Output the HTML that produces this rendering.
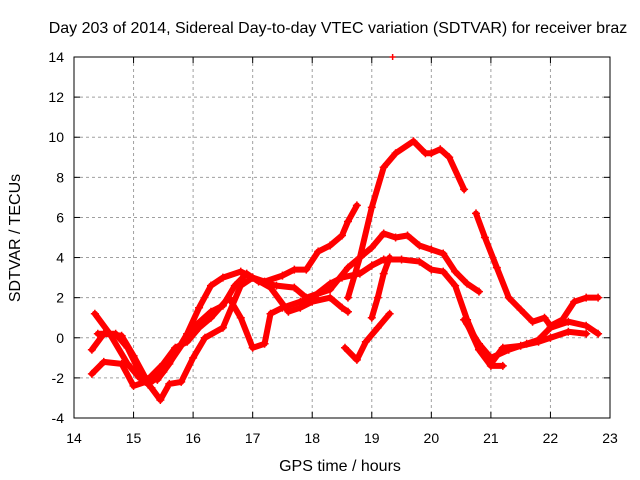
<!DOCTYPE html>
<html><head><meta charset="utf-8"><style>
body{margin:0;background:#fff}
svg{display:block;font-family:"Liberation Sans",sans-serif}
</style></head><body>
<svg id="c" width="640" height="480"></svg>
<script>
const xTicks=[14,15,16,17,18,19,20,21,22,23];
const yTicks=[-4,-2,0,2,4,6,8,10,12,14];
const curveP=[[14.3,-0.6],[14.5,0.2],[14.8,0.1],[15.0,-0.9],[15.2,-2.0],[15.4,-2.1],[15.6,-1.3],[15.9,0.2],[16.1,1.5],[16.3,2.6],[16.5,3.0],[16.8,3.3],[17.0,3.0],[17.2,2.8],[17.5,3.1],[17.7,3.4],[17.9,3.4],[18.1,4.3],[18.3,4.6],[18.5,5.1],[18.6,5.8],[18.75,6.6]];
const curveQ=[[14.35,1.2],[14.6,0.2],[14.9,-1.3],[15.1,-2.0],[15.3,-2.2],[15.5,-1.7],[15.8,-0.4],[16.0,0.5],[16.3,1.3],[16.5,1.6],[16.7,2.6],[16.9,3.2],[17.1,2.8],[17.4,2.6],[17.7,2.5],[17.9,2.0],[18.1,2.2],[18.3,2.4],[18.6,3.5],[18.8,4.0],[19.0,4.5],[19.2,5.2],[19.4,5.0],[19.6,5.1],[19.8,4.6],[20.0,4.4],[20.2,4.2],[20.4,3.3],[20.6,2.7],[20.8,2.3]];
const curveR=[[14.3,-1.8],[14.5,-1.2],[14.8,-1.3],[15.0,-2.4],[15.2,-2.2],[15.5,-1.3],[15.7,-0.5],[15.9,-0.2],[16.1,0.5],[16.3,1.0],[16.6,2.0],[16.8,1.0],[17.0,-0.5],[17.2,-0.3],[17.3,1.2],[17.5,1.5],[17.8,1.8],[18.0,2.0],[18.3,2.7],[18.5,3.0],[18.8,3.2],[19.0,3.6],[19.2,3.9],[19.5,3.9],[19.8,3.8],[20.0,3.4],[20.2,3.3],[20.4,2.6],[20.6,0.9],[20.8,-0.5],[21.0,-1.3],[21.2,-0.5],[21.5,-0.4],[21.8,-0.2],[22.0,0.0],[22.3,0.3],[22.6,0.2]];
const curveS=[[14.4,0.2],[14.7,0.2],[14.9,-0.5],[15.15,-2.0],[15.3,-2.5],[15.45,-3.1],[15.6,-2.3],[15.8,-2.2],[16.0,-1.0],[16.2,0.0],[16.5,0.5],[16.8,2.6],[17.0,3.0],[17.3,2.5],[17.6,1.3],[17.8,1.5],[18.0,1.8],[18.3,2.0],[18.5,1.5],[18.6,1.3]];
const curveT=[[18.6,2.0],[18.8,4.0],[19.0,6.5],[19.2,8.5],[19.4,9.2],[19.7,9.8],[19.9,9.2],[20.0,9.2],[20.15,9.4],[20.3,9.0],[20.55,7.4]];
const curveU=[[20.75,6.2],[20.9,5.0],[21.1,3.5],[21.3,2.0],[21.5,1.4],[21.7,0.8],[21.9,1.0],[22.0,0.6],[22.2,0.9],[22.4,1.8],[22.6,2.0],[22.8,2.0]];
const curveV=[[20.55,0.9],[20.8,-0.3],[21.0,-1.0],[21.3,-0.6],[21.6,-0.3],[21.8,-0.1],[22.0,0.5],[22.3,0.8],[22.6,0.6],[22.8,0.2]];
const curveW=[[18.55,-0.5],[18.75,-1.1],[18.9,-0.2],[19.1,0.5],[19.3,1.2]];
const curveX=[[19.0,1.0],[19.1,2.0],[19.2,3.2],[19.3,4.0]];
const curveY=[[20.6,0.7],[20.8,-0.6],[21.0,-1.4],[21.2,-1.4]];
const stray=[[19.35,14]];
const curves=[curveP,curveQ,curveR,curveS,curveT,curveU,curveV,curveW,curveX,curveY];
const svg=document.getElementById('c');
const NS='http://www.w3.org/2000/svg';
const X0=74,X1=610,Y0=418,Y1=57;
const sx=h=>X0+(h-14)/9*(X1-X0);
const sy=v=>Y0-(v+4)/18*(Y0-Y1);
function mk(t,a,p){const e=document.createElementNS(NS,t);for(const k in a)e.setAttribute(k,a[k]);(p||svg).appendChild(e);return e;}
const grid=mk('g',{});


xTicks.forEach(t=>{if(t>14&&t<23)mk('line',{x1:sx(t),x2:sx(t),y1:Y1,y2:Y0,stroke:'#a0a0a0','stroke-dasharray':'3,3'},grid);});
yTicks.forEach(t=>{if(t>-4&&t<14)mk('line',{x1:X0,x2:X1,y1:sy(t),y2:sy(t),stroke:'#a0a0a0','stroke-dasharray':'3,3'},grid);});
const fr=mk('rect',{x:X0,y:Y1,width:X1-X0,height:Y0-Y1,fill:'none',stroke:'#000'});


xTicks.forEach(t=>{mk('line',{x1:sx(t),x2:sx(t),y1:Y0,y2:Y0-6,stroke:'#000'});mk('line',{x1:sx(t),x2:sx(t),y1:Y1,y2:Y1+6,stroke:'#000'});
const l=mk('text',{x:sx(t),y:Y0+25,'text-anchor':'middle','font-size':14});l.textContent=t;

});
yTicks.forEach(t=>{mk('line',{x1:X0,x2:X0+6,y1:sy(t),y2:sy(t),stroke:'#000'});mk('line',{x1:X1,x2:X1-6,y1:sy(t),y2:sy(t),stroke:'#000'});
const l=mk('text',{x:X0-10,y:sy(t)+5,'text-anchor':'end','font-size':14});l.textContent=t;

});
curves.forEach((c,i)=>{
const g=mk('g',{});


mk('polyline',{points:c.map(p=>sx(p[0])+','+sy(p[1])).join(' '),fill:'none',stroke:'#f00','stroke-width':6,'stroke-linejoin':'round','stroke-linecap':'round'},g);
c.forEach(p=>{const x=sx(p[0]),y=sy(p[1]);mk('path',{d:`M${x-4},${y}h8M${x},${y-4}v8`,stroke:'#f00','stroke-width':1.5},g);});
});
stray.forEach(p=>{const x=sx(p[0]),y=sy(p[1]);const s=mk('path',{d:`M${x-3},${y}h6M${x},${y-3}v6`,stroke:'#f00','stroke-width':1.5});

});
const tt=mk('text',{x:338,y:33,'text-anchor':'middle','font-size':16});tt.textContent='Day 203 of 2014, Sidereal Day-to-day VTEC variation (SDTVAR) for receiver braz';


const xt=mk('text',{x:340,y:471,'text-anchor':'middle','font-size':16});xt.textContent='GPS time / hours';


const yt=mk('text',{x:20,y:238,'text-anchor':'middle','font-size':16,transform:'rotate(-90 20 238)'});yt.textContent='SDTVAR / TECUs';


</script>
</body></html>
